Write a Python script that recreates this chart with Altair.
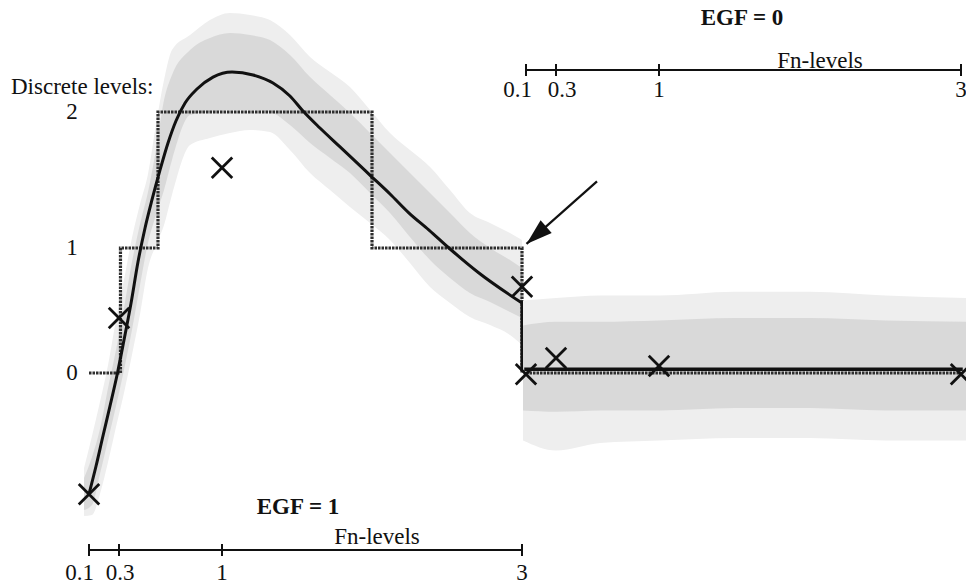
import altair as alt
import pandas as pd

# Fn levels shown on both axes
FN_TICKS = [0.1, 0.3, 1, 3]
FN_TICK_LABELS = ["0.1", "0.3", "1", "3"]
AXIS_SPAN = [0.1, 3]

# discrete output levels
LEVELS = [0, 1, 2]

# ---- EGF = 1 ----
# fitted continuous response
curve1_fn = [0.1, 0.147, 0.193, 0.24, 0.287, 0.334, 0.382, 0.429, 0.477, 0.524,
             0.579, 0.633, 0.687, 0.749, 0.83, 0.939, 1.067, 1.207, 1.34, 1.453,
             1.54, 1.653, 1.787, 1.993, 2.12, 2.247, 2.38, 2.513, 2.713, 3.0]
curve1_val = [-0.968, -0.744, -0.504, -0.264, -0.016, 0.264, 0.56, 0.888, 1.147, 1.353,
              1.574, 1.772, 1.934, 2.066, 2.169, 2.257, 2.294, 2.272, 2.213, 2.118,
              2.007, 1.882, 1.743, 1.529, 1.397, 1.257, 1.132, 1.0, 0.8, 0.56]
# discretised response (step after each threshold)
step1_fn = [0.1, 0.31, 0.565, 2.0, 3.0]
step1_level = [0, 1, 2, 1, 0]
# measured points
meas1_fn = [0.1, 0.3, 1, 3]
meas1_val = [-0.97, 0.44, 1.59, 0.69]
# spread of the simulated samples: dense core and outer fringe
cloud1_fn = [0.067, 0.12, 0.173, 0.227, 0.28, 0.334, 0.388, 0.443, 0.497, 0.551,
             0.606, 0.66, 0.783, 0.918, 1.053, 1.187, 1.32, 1.453, 1.587, 1.72,
             1.853, 1.987, 2.12, 2.253, 2.387, 2.52, 2.653, 2.787, 2.92, 3.0]
core1_hi = [-0.84, -0.672, -0.448, -0.12, 0.184, 0.52, 0.888, 1.176, 1.412, 1.721,
            2.088, 2.272, 2.456, 2.544, 2.581, 2.566, 2.529, 2.419, 2.257, 2.125,
            1.993, 1.846, 1.699, 1.551, 1.404, 1.257, 1.11, 1.0, 0.904, 0.84]
core1_lo = [-1.096, -1.056, -0.808, -0.536, -0.264, 0.024, 0.344, 0.704, 1.037, 1.243,
            1.426, 1.647, 1.978, 2.0, 2.015, 2.015, 2.0, 1.904, 1.772, 1.662,
            1.551, 1.404, 1.257, 1.081, 0.904, 0.76, 0.64, 0.568, 0.488, 0.44]
fringe1_hi = [-0.76, -0.504, -0.232, 0.064, 0.424, 0.744, 1.074, 1.324, 1.544, 1.904,
              2.235, 2.456, 2.566, 2.676, 2.728, 2.713, 2.676, 2.566, 2.404, 2.294,
              2.184, 2.015, 1.846, 1.721, 1.596, 1.426, 1.257, 1.184, 1.11, 1.059]
fringe1_lo = [-1.144, -1.136, -0.968, -0.712, -0.432, -0.16, 0.144, 0.472, 0.84, 1.022,
              1.169, 1.39, 1.757, 1.809, 1.846, 1.868, 1.853, 1.721, 1.551, 1.426,
              1.301, 1.184, 1.059, 0.88, 0.688, 0.56, 0.448, 0.384, 0.304, 0.224]
# jump from the EGF = 1 curve down to the EGF = 0 response
drop_fn = [3.0]
drop_from = [0.56]
drop_to = [0.03]
# arrow marking the jump
arrow_tail_fn, arrow_tail_val = [3.5], [1.49]
arrow_tip_fn, arrow_tip_val = [3.03], [1.03]

# ---- EGF = 0 ----
curve0_fn = [0.1, 3.0]
curve0_val = [0.03, 0.03]
step0_fn = [0.1, 3.0]
step0_level = [0, 0]
meas0_fn = [0.1, 0.3, 1, 3]
meas0_val = [-0.01, 0.12, 0.056, -0.01]
cloud0_fn = [0.08, 0.3, 0.6, 1.0, 1.5, 2.0, 2.5, 3.04]
core0_hi = [0.38, 0.41, 0.41, 0.42, 0.44, 0.44, 0.42, 0.41]
core0_lo = [-0.30, -0.31, -0.30, -0.30, -0.28, -0.28, -0.30, -0.30]
fringe0_hi = [0.58, 0.60, 0.62, 0.62, 0.65, 0.65, 0.62, 0.60]
fringe0_lo = [-0.54, -0.62, -0.56, -0.54, -0.52, -0.52, -0.54, -0.54]

SERIF = "Liberation Serif"
FS = 23
INK = "#111111"
CROSS = "M-1,-1L1,1M-1,1L1,-1"
HEAD = "M0,0L0.45,1.4L-0.45,1.4Z"

X1 = alt.Scale(domain=FN_TICKS, range=[89, 119, 222, 522], nice=False, zero=False)
X0 = alt.Scale(domain=FN_TICKS, range=[526, 556, 659, 961], nice=False, zero=False)
Y = alt.Scale(domain=[-1, 0, 1, 2, 3], range=[498, 373, 248, 112, -24],
              nice=False, zero=False)


def xenc(field, xs):
    return alt.X(field, type="quantitative", scale=xs, axis=None)


def yenc(field):
    return alt.Y(field, type="quantitative", scale=Y, axis=None)


def band(fn, hi, lo, color, xs):
    df = pd.DataFrame({"fn": fn, "hi": hi, "lo": lo})
    return alt.Chart(df).mark_area(color=color, interpolate="monotone").encode(
        x=xenc("fn", xs), y=yenc("hi"), y2="lo:Q")


def steps(fn, level, xs):
    df = pd.DataFrame({"fn": fn, "level": level})
    return alt.Chart(df).mark_line(
        interpolate="step-after", color="#2e2e2e", strokeWidth=3.2,
        strokeDash=[2.5, 1]).encode(x=xenc("fn", xs), y=yenc("level"))


def response(fn, val, xs, interp, width):
    df = pd.DataFrame({"fn": fn, "val": val})
    return alt.Chart(df).mark_line(
        interpolate=interp, color=INK, strokeWidth=width,
        strokeCap="square").encode(x=xenc("fn", xs), y=yenc("val"))


def crosses(fn, val, xs):
    df = pd.DataFrame({"fn": fn, "val": val})
    return alt.Chart(df).mark_point(
        shape=CROSS, size=420, filled=False, stroke=INK, strokeWidth=2.8,
        opacity=1).encode(x=xenc("fn", xs), y=yenc("val"))


def fn_axis(xs, y_line, y_label, shifts):
    ticks = pd.DataFrame({"fn": FN_TICKS, "label": FN_TICK_LABELS})
    span = pd.DataFrame({"start": [AXIS_SPAN[0]], "end": [AXIS_SPAN[1]]})
    line = alt.Chart(span).mark_rule(color=INK, strokeWidth=2).encode(
        x=xenc("start", xs), x2="end:Q", y=alt.value(y_line))
    tick = alt.Chart(ticks).mark_rule(color=INK, strokeWidth=2).encode(
        x=xenc("fn", xs), y=alt.value(y_line - 6), y2=alt.value(y_line + 6))
    layers = [line, tick]
    # the two closely spaced low ticks get their labels pushed apart
    for i, (align, dx) in enumerate(shifts):
        layers.append(alt.Chart(ticks.iloc[[i]]).mark_text(
            font=SERIF, fontSize=FS, color=INK, baseline="middle",
            align=align, dx=dx).encode(
            x=xenc("fn", xs), y=alt.value(y_label), text="label:N"))
    return alt.layer(*layers)


def note(text, x, y, bold=False, align="center"):
    return alt.Chart(pd.DataFrame({"t": [text]})).mark_text(
        font=SERIF, fontSize=FS, fontWeight="bold" if bold else "normal",
        color=INK, baseline="middle", align=align).encode(
        x=alt.value(x), y=alt.value(y), text="t:N")


drop = alt.Chart(pd.DataFrame({"fn": drop_fn, "a": drop_from, "b": drop_to})).mark_rule(
    color=INK, strokeWidth=3, strokeCap="square").encode(
    x=xenc("fn", X1), y=yenc("a"), y2="b:Q")

arrow_df = pd.DataFrame({"x0": arrow_tail_fn, "y0": arrow_tail_val,
                         "x1": arrow_tip_fn, "y1": arrow_tip_val})
shaft = alt.Chart(arrow_df).mark_rule(color=INK, strokeWidth=2.2).encode(
    x=xenc("x0", X1), y=yenc("y0"), x2="x1:Q", y2="y1:Q")
head = alt.Chart(arrow_df).mark_point(
    shape=HEAD, size=1400, filled=True, color=INK, angle=228.6,
    opacity=1).encode(x=xenc("x1", X1), y=yenc("y1"))

level_labels = alt.Chart(pd.DataFrame({"level": LEVELS})).mark_text(
    font=SERIF, fontSize=FS, color=INK, baseline="middle").encode(
    x=alt.value(72), y=yenc("level"), text="level:N")

egf1 = alt.layer(
    band(cloud1_fn, fringe1_hi, fringe1_lo, "#eeeeee", X1),
    band(cloud1_fn, core1_hi, core1_lo, "#d9d9d9", X1),
    steps(step1_fn, step1_level, X1),
    response(curve1_fn, curve1_val, X1, "monotone", 3),
    drop,
    crosses(meas1_fn, meas1_val, X1),
    shaft, head,
    fn_axis(X1, 550, 573, [("right", 5), ("center", 1), ("center", 0), ("center", 0)]),
    level_labels,
    note("Discrete levels:", 11, 87, align="left"),
    note("EGF = 1", 298, 507, bold=True),
    note("Fn-levels", 377, 537),
)

egf0 = alt.layer(
    band(cloud0_fn, fringe0_hi, fringe0_lo, "#eeeeee", X0),
    band(cloud0_fn, core0_hi, core0_lo, "#d9d9d9", X0),
    response(curve0_fn, curve0_val, X0, "linear", 3.5),
    steps(step0_fn, step0_level, X0),
    crosses(meas0_fn, meas0_val, X0),
    fn_axis(X0, 70, 90, [("right", 6), ("center", 6), ("center", 0), ("center", 0)]),
    note("EGF = 0", 742, 18, bold=True),
    note("Fn-levels", 820, 61),
)

chart = alt.layer(egf1, egf0).resolve_scale(x="independent").properties(
    width=966, height=584, padding=0, autosize="none", background="white"
).configure_view(stroke=None)

chart.save("out.html", embed_options={"renderer": "svg", "actions": False})
